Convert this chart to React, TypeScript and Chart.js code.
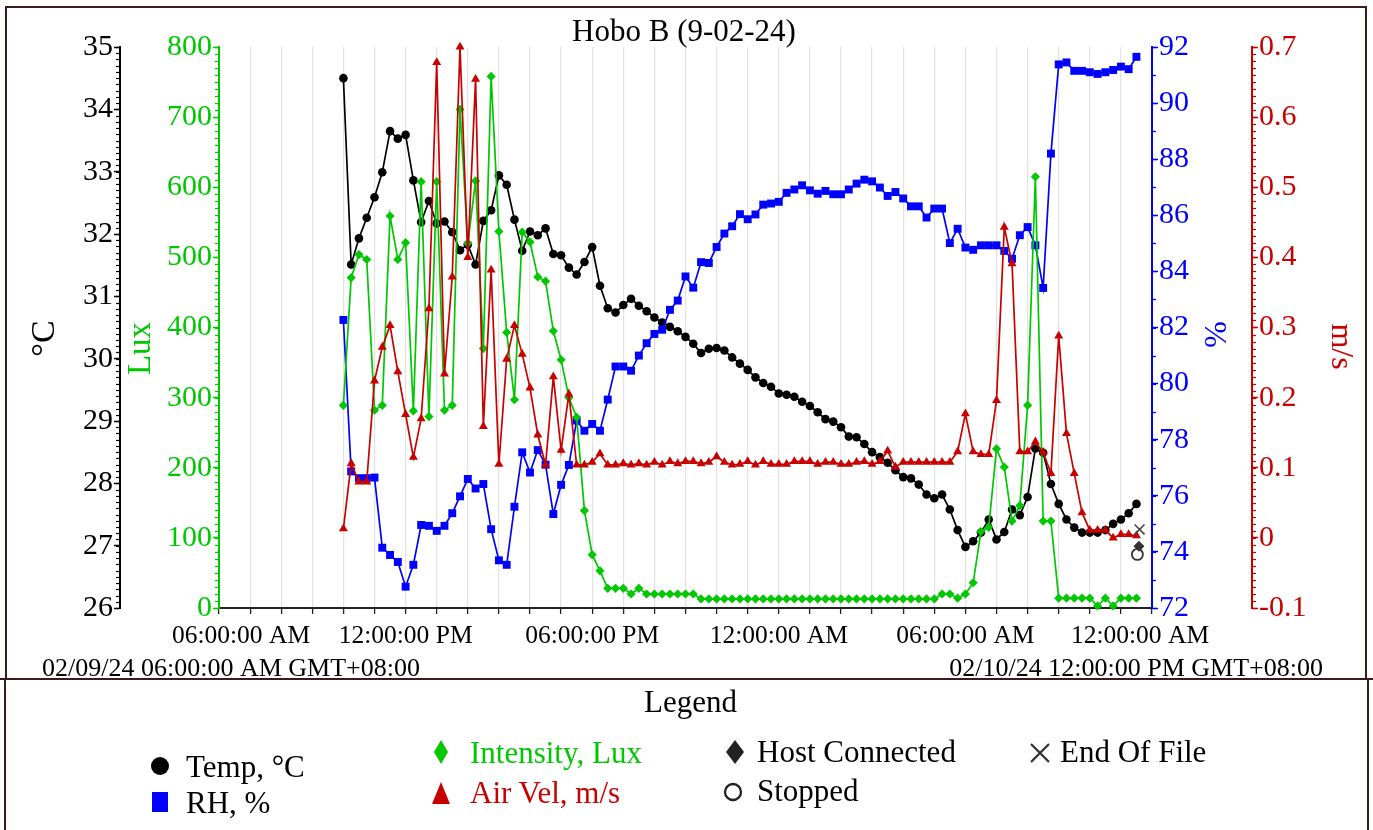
import { useEffect, useRef } from 'react';
import { Chart, registerables } from 'chart.js';

Chart.register(...registerables);

const SERIF = '"Liberation Serif", "Times New Roman", Times, serif';

const chartTitle = 'Hobo B (9-02-24)';

// x axis: hours after 02/09/24 06:00:00 AM
const axisStartHour = 0;
const axisEndHour = 30;
const firstReadingHour = 4; // first logged reading: 10:00 AM
const readingIntervalHours = 0.25; // 15 min logging interval

const xTickHours = [0, 6, 12, 18, 24, 30];
const xTickLabels = ['06:00:00 AM', '12:00:00 PM', '06:00:00 PM', '12:00:00 AM', '06:00:00 AM', '12:00:00 AM'];
const rangeStartLabel = '02/09/24 06:00:00 AM GMT+08:00';
const rangeEndLabel = '02/10/24 12:00:00 PM GMT+08:00';
const velTickLabels = ['-0.1', '0', '0.1', '0.2', '0.3', '0.4', '0.5', '0.6', '0.7'];

const tempC = [
  34.5, 31.51, 31.93, 32.26, 32.59, 32.99, 33.65, 33.53, 33.59, 32.86,
  32.19, 32.53, 32.17, 32.2, 32.03, 31.74, 31.83, 31.51, 32.21, 32.38,
  32.94, 32.79, 32.23, 31.73, 32.04, 31.98, 32.09, 31.68, 31.66, 31.46,
  31.35, 31.55, 31.79, 31.17, 30.81, 30.74, 30.86, 30.96, 30.85, 30.76,
  30.66, 30.58, 30.51, 30.44, 30.35, 30.24, 30.09, 30.16, 30.17, 30.13,
  30.02, 29.92, 29.82, 29.7, 29.61, 29.55, 29.44, 29.42, 29.39, 29.31,
  29.24, 29.14, 29.03, 28.99, 28.9, 28.75, 28.74, 28.63, 28.5, 28.42,
  28.33, 28.21, 28.1, 28.08, 27.98, 27.82, 27.76, 27.82, 27.58, 27.25,
  26.98, 27.07, 27.21, 27.42, 27.1, 27.22, 27.58, 27.49, 27.78, 28.56,
  28.49, 27.99, 27.67, 27.42, 27.29, 27.21, 27.21, 27.21, 27.25, 27.35,
  27.42, 27.52, 27.67,
];

const rhPct = [
  82.27, 76.87, 76.63, 76.63, 76.65, 74.15, 73.89, 73.64, 72.76, 73.54,
  74.96, 74.93, 74.75, 74.93, 75.38, 75.98, 76.6, 76.26, 76.42, 74.81,
  73.7, 73.54, 75.61, 77.55, 76.83, 77.63, 77.11, 75.35, 76.39, 77.1,
  78.68, 78.32, 78.56, 78.32, 79.43, 80.61, 80.61, 80.46, 81.0, 81.44,
  81.77, 81.92, 82.63, 82.96, 83.82, 83.42, 84.33, 84.3, 84.87, 85.35,
  85.61, 86.04, 85.86, 86.03, 86.38, 86.42, 86.48, 86.8, 86.92, 87.07,
  86.89, 86.77, 86.87, 86.75, 86.75, 86.92, 87.13, 87.27, 87.21, 86.99,
  86.69, 86.83, 86.6, 86.32, 86.32, 85.92, 86.24, 86.24, 85.01, 85.52,
  84.85, 84.77, 84.93, 84.93, 84.93, 84.73, 84.45, 85.29, 85.58, 84.93,
  83.41, 88.2, 91.38, 91.45, 91.15, 91.15, 91.1, 91.04, 91.1, 91.18,
  91.3, 91.21, 91.65,
];

const intensityLux = [
  289, 471, 504, 497, 282, 289, 559, 497, 521, 281,
  608, 273, 608, 282, 289, 711, 520, 609, 370, 758,
  537, 393, 297, 536, 522, 472, 466, 395, 354, 300,
  272, 139, 76, 53, 28, 28, 28, 20, 28, 20,
  20, 20, 20, 20, 20, 20, 13, 13, 13, 13,
  13, 13, 13, 13, 13, 13, 13, 13, 13, 13,
  13, 13, 13, 13, 13, 13, 13, 13, 13, 13,
  13, 13, 13, 13, 13, 13, 13, 20, 20, 14,
  20, 36, 109, 115, 227, 201, 124, 146, 289, 615,
  124, 124, 14, 14, 14, 14, 14, 3, 14, 3,
  14, 14, 14,
];

const airVelMs = [
  0.013, 0.106, 0.08, 0.08, 0.224, 0.272, 0.303, 0.237, 0.176, 0.115,
  0.17, 0.327, 0.678, 0.234, 0.372, 0.7, 0.4, 0.654, 0.159, 0.382,
  0.105, 0.255, 0.303, 0.262, 0.214, 0.147, 0.104, 0.23, 0.125, 0.205,
  0.104, 0.104, 0.108, 0.12, 0.104, 0.104, 0.106, 0.104, 0.106, 0.104,
  0.108, 0.104, 0.109, 0.106, 0.109, 0.109, 0.106, 0.108, 0.116, 0.108,
  0.104, 0.105, 0.109, 0.104, 0.109, 0.105, 0.105, 0.105, 0.109, 0.109,
  0.109, 0.105, 0.108, 0.108, 0.105, 0.105, 0.108, 0.109, 0.105, 0.109,
  0.124, 0.101, 0.108, 0.108, 0.108, 0.108, 0.108, 0.108, 0.108, 0.123,
  0.177, 0.123, 0.119, 0.119, 0.196, 0.443, 0.391, 0.123, 0.123, 0.137,
  0.122, 0.092, 0.288, 0.149, 0.092, 0.036, 0.011, 0.011, 0.011, 0.0,
  0.005, 0.005, 0.003,
];

// logger events, plotted against the °C axis
const endOfFileEvent = [{ hour: 29.6, temp: 27.26 }];
const hostConnectedEvent = [{ hour: 29.58, temp: 26.99 }];
const stoppedEvent = [{ hour: 29.53, temp: 26.86 }];

const GREEN = '#00c800';
const RED = '#c80000';
const BLUE = '#0000ff';

const readingHours = tempC.map((_, i) => firstReadingHour + i * readingIntervalHours);
const pts = (vals: number[]) => vals.map((v, i) => ({ x: readingHours[i], y: v }));
const evPts = (ev: { hour: number; temp: number }[]) => ev.map((e) => ({ x: e.hour, y: e.temp }));

const decorPlugin = {
  id: 'decor',
  beforeDraw(chart: any) {
    const { ctx, width, height } = chart;
    ctx.save();
    ctx.fillStyle = '#ffffff';
    ctx.fillRect(0, 0, width, height);
    ctx.restore();
  },
  afterDraw(chart: any) {
    const { ctx, chartArea, scales } = chart;
    const { x, yT, yL, yR, yV } = scales;
    ctx.save();
    const minorTicks = (scale: any, step: number, color: string, dir: number) => {
      ctx.strokeStyle = color;
      ctx.lineWidth = 1.2;
      const n = Math.round((scale.max - scale.min) / step);
      const edge = dir < 0 ? scale.right : scale.left;
      for (let k = 0; k <= n; k++) {
        const py = Math.round(scale.getPixelForValue(scale.min + k * step)) + 0.5;
        ctx.beginPath();
        ctx.moveTo(edge, py);
        ctx.lineTo(edge + dir * 4, py);
        ctx.stroke();
      }
    };
    minorTicks(yT, 0.1, '#000', -1);
    minorTicks(yL, 10, GREEN, -1);
    minorTicks(yR, 1, BLUE, 1);
    minorTicks(yV, 0.01, RED, 1);

    // x tick labels
    ctx.fillStyle = '#000';
    ctx.font = `25.5px ${SERIF}`;
    ctx.textAlign = 'center';
    ctx.textBaseline = 'alphabetic';
    const last = xTickHours.length - 1;
    xTickHours.forEach((h, i) => {
      let px = x.getPixelForValue(h);
      if (i === 0) px += 22;
      if (i === last) px -= 12;
      ctx.fillText(xTickLabels[i], px, chartArea.bottom + 35);
    });

    ctx.font = `26px ${SERIF}`;
    ctx.textAlign = 'left';
    ctx.fillText(rangeStartLabel, 42, chartArea.bottom + 68);
    ctx.textAlign = 'right';
    ctx.fillText(rangeEndLabel, 1323, chartArea.bottom + 68);

    // title
    ctx.font = `31px ${SERIF}`;
    ctx.textAlign = 'center';
    ctx.fillText(chartTitle, 684, 41);

    // axis titles
    const mid = (chartArea.top + chartArea.bottom) / 2;
    const rot = (text: string, px: number, py: number, angle: number, color: string, size: number) => {
      ctx.save();
      ctx.translate(px, py);
      ctx.rotate(angle);
      ctx.fillStyle = color;
      ctx.font = `${size}px ${SERIF}`;
      ctx.textAlign = 'center';
      ctx.textBaseline = 'middle';
      ctx.fillText(text, 0, 0);
      ctx.restore();
    };
    rot('°C', yT.left + 45, mid + 11, -Math.PI / 2, '#000', 34);
    rot('Lux', yL.left + 21, mid + 21, -Math.PI / 2, GREEN, 33);
    rot('%', yR.left + 61, mid + 7, Math.PI / 2, BLUE, 32);
    rot('m/s', yV.left + 88, mid + 19, Math.PI / 2, RED, 32);
    ctx.restore();
  },
};

function LegendText({ left, baseline, color = '#000', children }: any) {
  return (
    <div
      style={{
        position: 'absolute',
        left,
        top: baseline - 26,
        fontSize: 31,
        lineHeight: '31px',
        color,
        whiteSpace: 'nowrap',
        fontFamily: SERIF,
      }}
    >
      {children}
    </div>
  );
}

export default function App() {
  const canvasRef = useRef<HTMLCanvasElement | null>(null);

  useEffect(() => {
    document.body.style.margin = '0';
    const canvas = canvasRef.current;
    if (!canvas) return;
    const chart = new Chart(canvas, {
      type: 'line',
      data: {
        datasets: [
          {
            label: 'End Of File',
            type: 'scatter',
            data: evPts(endOfFileEvent),
            yAxisID: 'yT',
            pointStyle: 'crossRot',
            pointRadius: 7,
            borderColor: '#444',
            backgroundColor: '#444',
            pointBorderWidth: 1.6,
            showLine: false,
            order: 0,
          } as any,
          {
            label: 'Host Connected',
            type: 'scatter',
            data: evPts(hostConnectedEvent),
            yAxisID: 'yT',
            pointStyle: 'rectRot',
            pointRadius: 5.5,
            borderColor: '#333',
            backgroundColor: '#333',
            pointBorderWidth: 0,
            showLine: false,
            order: 0,
          } as any,
          {
            label: 'Stopped',
            type: 'scatter',
            data: evPts(stoppedEvent),
            yAxisID: 'yT',
            pointStyle: 'circle',
            pointRadius: 5.5,
            borderColor: '#333',
            backgroundColor: 'rgba(255,255,255,0)',
            pointBorderWidth: 1.8,
            showLine: false,
            order: 1,
          } as any,
          {
            label: 'Air Vel, m/s',
            data: pts(airVelMs),
            yAxisID: 'yV',
            borderColor: RED,
            backgroundColor: RED,
            borderWidth: 1.7,
            pointStyle: 'triangle',
            pointRadius: 5.2,
            pointBorderWidth: 0,
            tension: 0,
            order: 2,
          },
          {
            label: 'Intensity, Lux',
            data: pts(intensityLux),
            yAxisID: 'yL',
            borderColor: GREEN,
            backgroundColor: GREEN,
            borderWidth: 1.7,
            pointStyle: 'rectRot',
            pointRadius: 4.6,
            pointBorderWidth: 0,
            tension: 0,
            order: 3,
          },
          {
            label: 'RH, %',
            data: pts(rhPct),
            yAxisID: 'yR',
            borderColor: BLUE,
            backgroundColor: BLUE,
            borderWidth: 1.7,
            pointStyle: 'rect',
            pointRadius: 5.6,
            pointBorderWidth: 0,
            tension: 0,
            order: 4,
          },
          {
            label: 'Temp, °C',
            data: pts(tempC),
            yAxisID: 'yT',
            borderColor: '#000',
            backgroundColor: '#000',
            borderWidth: 1.7,
            pointStyle: 'circle',
            pointRadius: 4.3,
            pointBorderWidth: 0,
            tension: 0,
            order: 5,
          },
        ],
      },
      options: {
        animation: false,
        responsive: false,
        maintainAspectRatio: false,
        devicePixelRatio: 1,
        layout: { padding: { top: 47, left: 0, right: 0, bottom: 0 } },
        plugins: { legend: { display: false }, tooltip: { enabled: false }, title: { display: false } },
        events: [],
        datasets: { line: { clip: 12 } as any, scatter: { clip: 12 } as any },
        scales: {
          x: {
            type: 'linear',
            position: 'bottom',
            min: axisStartHour,
            max: axisEndHour,
            ticks: { stepSize: 1, maxTicksLimit: 100, autoSkip: false, maxRotation: 0, callback: () => '' },
            grid: {
              color: (c: any) => (c.index === 0 || c.index === axisEndHour ? 'rgba(0,0,0,0)' : '#e2e2e2'),
              lineWidth: 1.2,
              drawTicks: true,
              tickLength: 6,
              tickColor: '#222',
              tickWidth: 1.3,
            },
            border: { color: '#222', width: 2 },
            afterFit: (s: any) => {
              s.height = 72;
            },
          },
          yT: {
            type: 'linear',
            position: 'left',
            weight: 2,
            min: 26,
            max: 35,
            ticks: { stepSize: 1, maxTicksLimit: 100, color: '#000', padding: 1, font: { family: SERIF, size: 30 } },
            grid: { drawOnChartArea: false, drawTicks: true, tickLength: 6, tickColor: '#000', tickWidth: 1.5 },
            border: { color: '#000', width: 2 },
            afterFit: (s: any) => {
              s.width = 120;
            },
          },
          yL: {
            type: 'linear',
            position: 'left',
            weight: 1,
            min: 0,
            max: 800,
            ticks: { stepSize: 100, maxTicksLimit: 100, color: GREEN, padding: 1, font: { family: SERIF, size: 30 } },
            grid: { drawOnChartArea: false, drawTicks: true, tickLength: 6, tickColor: GREEN, tickWidth: 1.5 },
            border: { color: GREEN, width: 2 },
            afterFit: (s: any) => {
              s.width = 99;
            },
          },
          yR: {
            type: 'linear',
            position: 'right',
            weight: 1,
            min: 72,
            max: 92,
            ticks: { stepSize: 2, maxTicksLimit: 100, color: BLUE, padding: 1, font: { family: SERIF, size: 30 } },
            grid: { drawOnChartArea: false, drawTicks: true, tickLength: 6, tickColor: BLUE, tickWidth: 1.5 },
            border: { color: BLUE, width: 2 },
            afterFit: (s: any) => {
              s.width = 100;
            },
          },
          yV: {
            type: 'linear',
            position: 'right',
            weight: 2,
            min: -0.1,
            max: 0.7,
            ticks: {
              stepSize: 0.1,
              maxTicksLimit: 100,
              color: RED,
              padding: 1,
              font: { family: SERIF, size: 30 },
              callback: (_v: any, i: number) => velTickLabels[i],
            },
            grid: { drawOnChartArea: false, drawTicks: true, tickLength: 6, tickColor: RED, tickWidth: 1.5 },
            border: { color: RED, width: 2 },
            afterFit: (s: any) => {
              s.width = 121;
            },
          },
        },
      } as any,
      plugins: [decorPlugin],
    });
    return () => chart.destroy();
  }, []);

  const frame = '#3b1c12';
  const line = (style: any) => <div style={{ position: 'absolute', background: frame, ...style }} />;

  return (
    <div style={{ position: 'relative', width: 1373, height: 830, background: '#fff', overflow: 'hidden', fontFamily: SERIF }}>
      <canvas ref={canvasRef} width={1373} height={680} style={{ position: 'absolute', left: 0, top: 0, width: 1373, height: 680 }} />
      {line({ left: 5, top: 6, width: 1362, height: 2 })}
      {line({ left: 5, top: 6, width: 2, height: 674 })}
      {line({ left: 1365, top: 6, width: 2, height: 674 })}
      {line({ left: 0, top: 678, width: 1373, height: 2 })}
      {line({ left: 4, top: 680, width: 2, height: 150 })}
      {line({ left: 1367, top: 680, width: 2, height: 150 })}

      <div style={{ position: 'absolute', left: 0, width: 1373, top: 712 - 26, fontSize: 31, lineHeight: '31px', textAlign: 'center', paddingLeft: 4 }}>
        Legend
      </div>

      <svg width={1373} height={150} style={{ position: 'absolute', left: 0, top: 680 }}>
        <circle cx={160} cy={86} r={9} fill="#000" />
        <rect x={152} y={112} width={16} height={20} fill={BLUE} />
        <polygon points="441,60 448,72 441,84 434,72" fill={GREEN} />
        <polygon points="441,102 450,124 432,124" fill={RED} />
        <polygon points="735,60 744,72 735,84 726,72" fill="#222" />
        <circle cx={733} cy={112} r={8} fill="none" stroke="#222" strokeWidth={2.3} />
        <path d="M1031,64 L1049,82 M1049,64 L1031,82" stroke="#333" strokeWidth={2.3} />
      </svg>

      <LegendText left={186} baseline={777}>Temp, °C</LegendText>
      <LegendText left={186} baseline={813}>RH, %</LegendText>
      <LegendText left={470} baseline={763} color={GREEN}>Intensity, Lux</LegendText>
      <LegendText left={470} baseline={803} color={RED}>Air Vel, m/s</LegendText>
      <LegendText left={757} baseline={762}>Host Connected</LegendText>
      <LegendText left={757} baseline={801}>Stopped</LegendText>
      <LegendText left={1060} baseline={762}>End Of File</LegendText>
    </div>
  );
}
